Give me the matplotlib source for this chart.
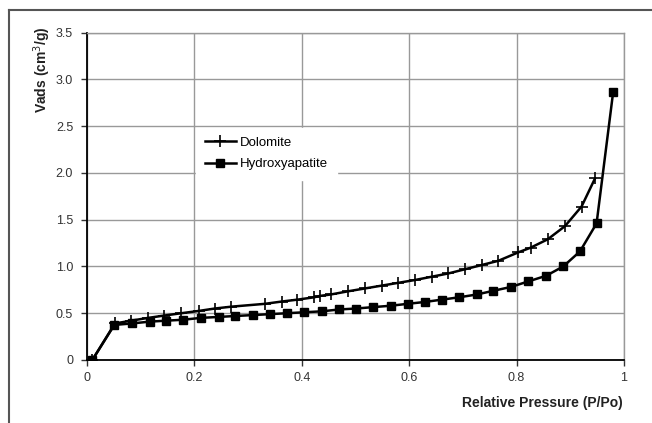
import matplotlib.pyplot as plt
from matplotlib.lines import Line2D

plt.rcParams['font.family'] = ['Liberation Sans', 'DejaVu Sans']

# ----- data -----
dol_x = [0.01, 0.052, 0.082, 0.114, 0.144, 0.176, 0.209, 0.238, 0.269, 0.331,
         0.363, 0.392, 0.423, 0.434, 0.454, 0.487, 0.518, 0.549, 0.580, 0.611,
         0.642, 0.673, 0.704, 0.735, 0.766, 0.803, 0.826, 0.858, 0.890, 0.921,
         0.946]
dol_y = [0.0, 0.39, 0.42, 0.45, 0.475, 0.50, 0.525, 0.55, 0.57, 0.60,
         0.625, 0.645, 0.67, 0.685, 0.70, 0.735, 0.765, 0.795, 0.825, 0.855,
         0.89, 0.925, 0.97, 1.015, 1.06, 1.15, 1.20, 1.29, 1.43, 1.64,
         1.94]

hap_x = [0.01, 0.051, 0.083, 0.117, 0.147, 0.179, 0.212, 0.245, 0.276, 0.309,
         0.341, 0.373, 0.405, 0.437, 0.470, 0.501, 0.533, 0.566, 0.597, 0.629,
         0.661, 0.693, 0.726, 0.757, 0.789, 0.822, 0.855, 0.887, 0.918, 0.949,
         0.980]
hap_y = [0.0, 0.375, 0.39, 0.41, 0.42, 0.43, 0.45, 0.46, 0.47, 0.48,
         0.49, 0.50, 0.51, 0.52, 0.54, 0.55, 0.565, 0.58, 0.60, 0.62,
         0.645, 0.67, 0.70, 0.74, 0.78, 0.84, 0.90, 1.00, 1.16, 1.46,
         2.87]

x_ticks = [0, 0.2, 0.4, 0.6, 0.8, 1.0]
x_labels = ['0', '0.2', '0.4', '0.6', '0.8', '1']
y_ticks = [0, 0.5, 1.0, 1.5, 2.0, 2.5, 3.0, 3.5]
y_labels = ['0', '0.5', '1.0', '1.5', '2.0', '2.5', '3.0', '3.5']

# ----- figure -----
fig = plt.figure(figsize=(6.52, 4.23), dpi=100)
ax = fig.add_axes([0.1334, 0.149, 0.8236, 0.774])

ax.plot(dol_x, dol_y, color='black', lw=1.8, marker='+', ms=8, mew=1.2,
        label='Dolomite')
ax.plot(hap_x, hap_y, color='black', lw=1.8, marker='s', ms=5.5,
        label='Hydroxyapatite')

ax.set_xlim(0, 1)
ax.set_ylim(0, 3.5)
ax.set_xticks(x_ticks)
ax.set_xticklabels(x_labels)
ax.set_yticks(y_ticks)
ax.set_yticklabels(y_labels)
ax.tick_params(labelsize=9, colors='#333333', length=4, width=1,
               direction='out', pad=6)
ax.tick_params(axis='x', pad=5)

ax.grid(True, color='#999999', lw=1)
ax.set_axisbelow(True)
for side in ['top', 'right']:
    ax.spines[side].set_color('#999999')
    ax.spines[side].set_linewidth(1)
for side in ['left', 'bottom']:
    ax.spines[side].set_color('black')
    ax.spines[side].set_linewidth(1.3)

leg = ax.legend(loc='upper left', bbox_to_anchor=(0.203, 0.71), frameon=True,
                fancybox=False, fontsize=9.5, handlelength=2.3,
                handletextpad=0.3, borderpad=0.7, labelspacing=0.7,
                borderaxespad=0)
leg.get_frame().set_edgecolor('white')
leg.get_frame().set_alpha(1)

fig.text(0.064, 0.835, 'Vads (cm$^3$/g)', rotation=90, ha='center',
         va='center', fontsize=10, fontweight='bold', color='#222222')
fig.text(0.955, 0.047, 'Relative Pressure (P/Po)', ha='right', va='center',
         fontsize=10, fontweight='bold', color='#222222')

# outer chart frame (partly cropped in the original)
fig.add_artist(Line2D([0.014, 1.0], [0.977, 0.977], color='#555555', lw=1.5,
                      transform=fig.transFigure))
fig.add_artist(Line2D([0.014, 0.014], [0.0, 0.977], color='#555555', lw=1.5,
                      transform=fig.transFigure))

fig.savefig('out.png', dpi=100)
